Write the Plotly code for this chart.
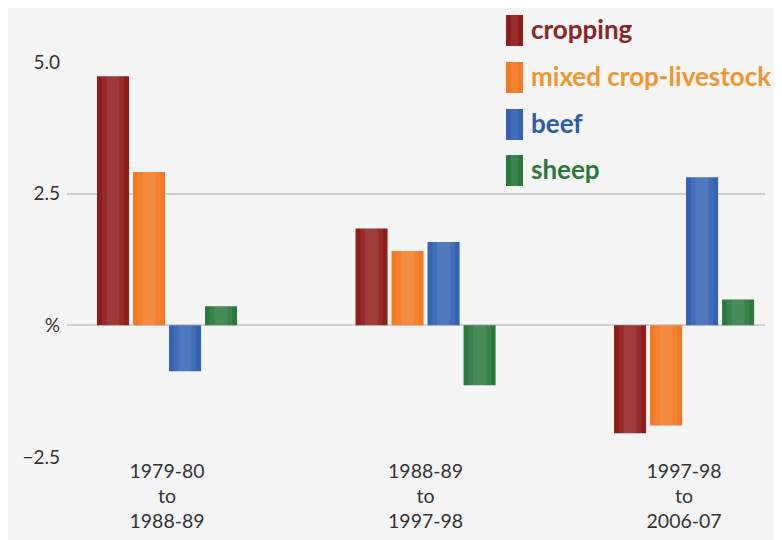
import plotly.graph_objs as go

# data
periods = ["1979-80<br>to<br>1988-89", "1988-89<br>to<br>1997-98", "1997-98<br>to<br>2006-07"]
series_names = ["cropping", "mixed crop-livestock", "beef", "sheep"]
cropping = [4.73, 1.84, -2.05]
mixed = [2.91, 1.41, -1.90]
beef = [-0.87, 1.58, 2.81]
sheep = [0.36, -1.14, 0.49]
y_ticks = [-2.5, 0, 2.5, 5.0]
y_tick_labels = ["\u22122.5", "%", "2.5", "5.0"]

bar_colors = ["#8e1d1c", "#f37a22", "#3463b3", "#2a7a3e"]
text_colors = ["#8c2424", "#f0962e", "#2c5da8", "#2b7a3c"]

W, H = 782, 540
# the page body adds an 8px offset, so page px = figure px + 8
PAGE_OFF = 8
MARGIN = {"t": 54, "b": 91, "l": 59, "r": 25}
BG = "#f5f5f5"

BAR_W = 0.124
BAR_STEP = 0.1393
FIRST_OFFSET = -0.271


def px_x(px: float) -> float:
    return (px - PAGE_OFF - MARGIN["l"]) / (W - MARGIN["l"] - MARGIN["r"])


def px_y(py: float) -> float:
    return (H - MARGIN["b"] - (py - PAGE_OFF)) / (H - MARGIN["t"] - MARGIN["b"])


fig = go.Figure()
values = [cropping, mixed, beef, sheep]
for ii, (name, vals) in enumerate(zip(series_names, values)):
    offset = FIRST_OFFSET + ii * BAR_STEP
    fig.add_trace(
        go.Bar(
            x=periods,
            y=vals,
            name=name,
            width=BAR_W,
            offset=offset,
            marker=dict(color=bar_colors[ii], line=dict(width=0)),
            showlegend=False,
        )
    )
    # soft highlight down the middle of each bar, for the shaded look
    for frac, op in [(0.7, 0.07), (0.4, 0.08)]:
        w = BAR_W * frac
        fig.add_trace(
            go.Bar(
                x=periods,
                y=vals,
                width=w,
                offset=offset + (BAR_W - w) / 2,
                marker=dict(color="white", opacity=op, line=dict(width=0)),
                showlegend=False,
                hoverinfo="skip",
            )
        )

# hand-drawn legend, top right (page px)
shapes = [
    # patch so the top gridline stops short of the legend
    dict(
        type="rect",
        xref="paper",
        yref="paper",
        x0=px_x(490),
        x1=1.0,
        y0=px_y(100),
        y1=px_y(40),
        fillcolor=BG,
        line=dict(width=0),
        layer="above",
    )
]
annotations = []
legend_tops = [15, 62, 109, 155]
for ii, name in enumerate(series_names):
    top = legend_tops[ii]
    shapes.append(
        dict(
            type="rect",
            xref="paper",
            yref="paper",
            x0=px_x(506),
            x1=px_x(523),
            y0=px_y(top + 31),
            y1=px_y(top),
            fillcolor=bar_colors[ii],
            line=dict(width=0),
            layer="above",
        )
    )
    shapes.append(
        dict(
            type="rect",
            xref="paper",
            yref="paper",
            x0=px_x(511),
            x1=px_x(518),
            y0=px_y(top + 31),
            y1=px_y(top),
            fillcolor="white",
            opacity=0.08,
            line=dict(width=0),
            layer="above",
        )
    )
    annotations.append(
        dict(
            xref="paper",
            yref="paper",
            x=px_x(529),
            y=px_y(top + 14),
            xanchor="left",
            yanchor="middle",
            text=f"<b>{name}</b>",
            showarrow=False,
            font=dict(family="Lato", size=26, color=text_colors[ii]),
        )
    )

fig.update_layout(
    width=W,
    height=H,
    barmode="overlay",
    margin=MARGIN,
    paper_bgcolor=BG,
    plot_bgcolor=BG,
    font=dict(family="Lato", color="#333333"),
    xaxis=dict(
        range=[-0.387, 2.313],
        showgrid=False,
        showline=False,
        zeroline=False,
        ticks="",
        automargin=False,
        tickfont=dict(size=19.5, color="#333333"),
    ),
    yaxis=dict(
        range=[-2.5, 5.0],
        tickvals=y_ticks,
        ticktext=y_tick_labels,
        showgrid=True,
        gridcolor="#cfcfcf",
        gridwidth=1.5,
        zeroline=True,
        zerolinecolor="#cfcfcf",
        zerolinewidth=1.5,
        showline=False,
        ticks="",
        automargin=False,
        ticklabelstandoff=6,
        tickfont=dict(size=19, color="#333333"),
    ),
    shapes=shapes,
    annotations=annotations,
)

fig.write_html("out.html")
